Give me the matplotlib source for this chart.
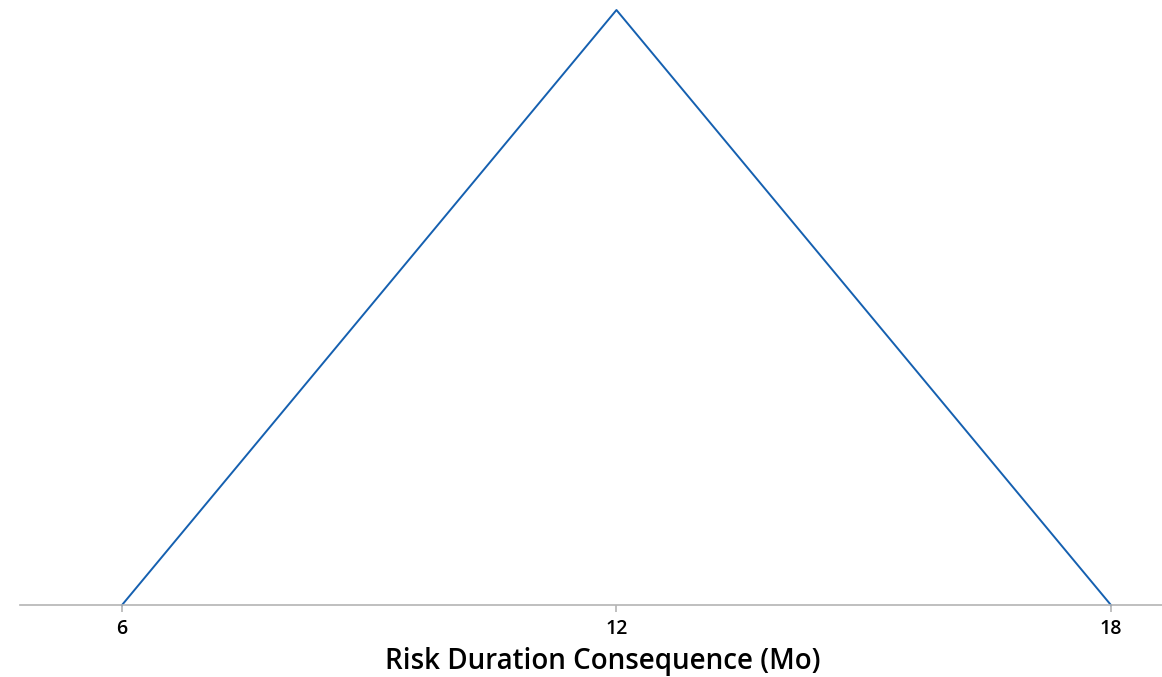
import matplotlib.pyplot as plt

# triangular distribution: min, mode, max
durations = [6, 12, 18]
density = [0.0, 1.0, 0.0]
tick_values = [6, 12, 18]

fig = plt.figure(figsize=(11.62, 6.77), dpi=100)
ax = fig.add_axes([20 / 1162, 72 / 677, 1142 / 1162, 595 / 677])

ax.plot(durations, density, color='#1560b0', linewidth=1.4, clip_on=False)

ax.set_xlim(4.762, 18.62)
ax.set_ylim(0, 1)

for side in ['top', 'right', 'left']:
    ax.spines[side].set_visible(False)
ax.spines['bottom'].set_color('#b4b4b4')
ax.spines['bottom'].set_linewidth(1.2)
ax.set_yticks([])
ax.set_xticks(tick_values)
ax.set_xticklabels([str(v) for v in tick_values], fontsize=14, family='Open Sans',
                   fontweight='semibold')
ax.tick_params(axis='x', colors='#b4b4b4', labelcolor='black', length=5, width=1.2, pad=5)

ax.set_xlabel('Risk Duration Consequence (Mo)', fontsize=20, family='Open Sans',
              fontweight='semibold', labelpad=6)
ax.xaxis.label.set_x(0.51)

fig.savefig('out.png', dpi=100)
